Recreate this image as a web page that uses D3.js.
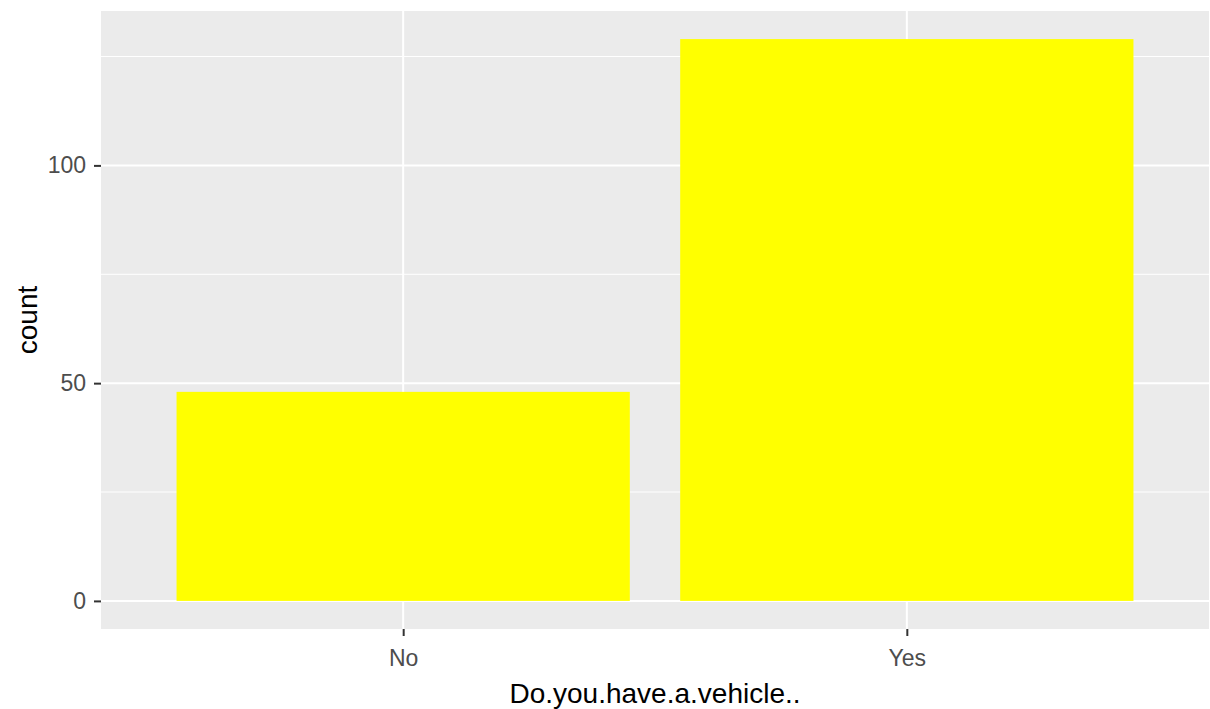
<!DOCTYPE html>
<html>
<head>
<meta charset="utf-8">
<script src="https://cdn.jsdelivr.net/npm/d3@7"></script>
<style>
  body { margin: 0; background: #fff; }
  svg text { font-family: "Liberation Sans", Arial, sans-serif; }
</style>
</head>
<body>
<svg width="1210" height="709"></svg>
<script>
var categories = ["No", "Yes"];
var counts = [48, 129];
var yTicks = [0, 50, 100];
var yMinor = [25, 75, 125];

var margin = { top: 11, right: 1, bottom: 80, left: 101 };
var width = 1210 - margin.left - margin.right;
var height = 709 - margin.top - margin.bottom;

var svg = d3.select("svg")
    .append("g")
    .attr("transform", "translate(" + margin.left + "," + margin.top + ")");

// ggplot style expansion: 5% on y, 0.6 units on discrete x
var yMax = d3.max(counts);
var y = d3.scaleLinear()
    .domain([-yMax * 0.05, yMax * 1.05])
    .range([height, 0]);

var x = d3.scaleLinear()
    .domain([0.4, categories.length + 0.6])
    .range([0, width]);

// panel background
svg.append("rect")
    .attr("width", width)
    .attr("height", height)
    .attr("fill", "#EBEBEB");

// minor grid
svg.selectAll(".minor")
    .data(yMinor)
    .enter().append("line")
    .attr("x1", 0).attr("x2", width)
    .attr("y1", function (d) { return y(d); })
    .attr("y2", function (d) { return y(d); })
    .attr("stroke", "#fff")
    .attr("stroke-width", 1);

// major grid
svg.selectAll(".major")
    .data(yTicks)
    .enter().append("line")
    .attr("x1", 0).attr("x2", width)
    .attr("y1", function (d) { return y(d); })
    .attr("y2", function (d) { return y(d); })
    .attr("stroke", "#fff")
    .attr("stroke-width", 2);

svg.selectAll(".vgrid")
    .data(categories)
    .enter().append("line")
    .attr("y1", 0).attr("y2", height)
    .attr("x1", function (d, i) { return x(i + 1); })
    .attr("x2", function (d, i) { return x(i + 1); })
    .attr("stroke", "#fff")
    .attr("stroke-width", 2);

// bars
svg.selectAll(".bar")
    .data(counts)
    .enter().append("rect")
    .attr("x", function (d, i) { return x(i + 1 - 0.45); })
    .attr("width", function (d, i) { return x(i + 1 + 0.45) - x(i + 1 - 0.45); })
    .attr("y", function (d) { return y(d); })
    .attr("height", function (d) { return y(0) - y(d); })
    .attr("fill", "#FFFF00");

// Y axis
var yAxis = svg.append("g")
    .call(d3.axisLeft(y).tickValues(yTicks).tickSize(7).tickPadding(8));
yAxis.select(".domain").remove();
yAxis.selectAll(".tick line").attr("stroke", "#333").attr("stroke-width", 2);
yAxis.selectAll(".tick text")
    .attr("fill", "#4D4D4D")
    .style("font-size", "23px");

// X axis
var xAxis = svg.append("g")
    .attr("transform", "translate(0," + height + ")")
    .call(d3.axisBottom(x)
        .tickValues(categories.map(function (d, i) { return i + 1; }))
        .tickFormat(function (d) { return categories[d - 1]; })
        .tickSize(7).tickPadding(14));
xAxis.select(".domain").remove();
xAxis.selectAll(".tick line").attr("stroke", "#333").attr("stroke-width", 2);
xAxis.selectAll(".tick text")
    .attr("fill", "#4D4D4D")
    .style("font-size", "23px");

// axis titles
svg.append("text")
    .attr("x", width / 2)
    .attr("y", height + 74)
    .attr("text-anchor", "middle")
    .style("font-size", "28px")
    .attr("fill", "#000")
    .text("Do.you.have.a.vehicle..");

svg.append("text")
    .attr("transform", "translate(" + (-64) + "," + (height / 2) + ") rotate(-90)")
    .attr("text-anchor", "middle")
    .style("font-size", "28px")
    .attr("fill", "#000")
    .text("count");
</script>
</body>
</html>
